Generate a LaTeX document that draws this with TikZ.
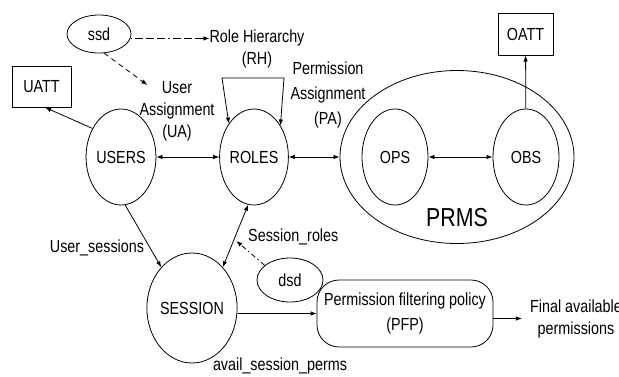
\documentclass[tikz,border=0pt]{standalone}
\usepackage{fontspec}
\setmainfont[FakeStretch=0.82]{Liberation Sans}
\usetikzlibrary{shapes.geometric,arrows.meta,calc}
\tikzset{
  ell/.style={ellipse, draw, line width=0.8pt, inner sep=0pt},
  attbox/.style={rectangle, draw, line width=1pt, inner sep=0pt},
  lbl/.style={align=center, inner sep=0pt},
  arr/.style={->, line width=0.8pt},
  darr/.style={<->, line width=0.8pt},
  sodarr/.style={->, line width=0.8pt,
    dash pattern=on 1.5pt off 3pt on 8pt off 3pt on 8pt off 3pt on 8pt off 3pt},
  sodash/.style={->, line width=0.8pt, dash pattern=on 5pt off 4pt},
  dsdarr/.style={->, line width=0.8pt, dash pattern=on 5pt off 3pt on 1.5pt off 3pt},
}
\begin{document}
\begin{tikzpicture}[x=1pt, y=-1pt, >={Latex[length=6pt,width=4.5pt]},
  font=\fontsize{17.5}{22}\selectfont]
\useasboundingbox (0,0) rectangle (619,376);

% entities
\node[ell, minimum width=64pt, minimum height=38pt] (ssd) at (99,34) {ssd};
\node[attbox, minimum width=59pt, minimum height=41pt] (UATT) at (41.5,86.5) {UATT};
\node[ell, minimum width=66pt, minimum height=96pt] (USERS) at (121,157) {USERS};
\node[ell, minimum width=64pt, minimum height=96pt] (ROLES) at (254,157) {ROLES};
\node[ell, minimum width=234pt, minimum height=173pt] (PRMS) at (457,157) {};
\node[font=\fontsize{26}{28}\selectfont, inner sep=0pt] (prmslbl) at (457,218) {PRMS};
\node[ell, minimum width=66pt, minimum height=96pt] (OPS) at (395,157) {OPS};
\node[ell, minimum width=66pt, minimum height=96pt] (OBS) at (526,157) {OBS};
\node[attbox, minimum width=55pt, minimum height=42pt] (OATT) at (525.5,34) {OATT};
\node[ell, minimum width=80pt, minimum height=110pt] (SESSION) at (192,308) {SESSION};
\node[ell, minimum width=66pt, minimum height=44pt] (dsd) at (290,280) {dsd};
\node[draw, rounded corners=22pt, minimum width=176pt, minimum height=67pt,
  align=center, line width=0.8pt, font=\fontsize{17.5}{25}\selectfont]
  (PFP) at (405,313.5) {Permission filtering policy\\(PFP)};

% relation labels
\node[lbl] (rh1) at (257,38) {Role Hierarchy};
\node[lbl] (rh2) at (257,60) {(RH)};
\node[lbl] (UA) at (177,111) {User\\Assignment\\(UA)};
\node[lbl, font=\fontsize{17.5}{25}\selectfont] (PA) at (328,95) {Permission\\Assignment\\(PA)};
\node[lbl] (usess) at (97,248) {User\_sessions};
\node[lbl, anchor=west] (sroles) at (248,237) {Session\_roles};
\node[lbl] (asp) at (280,366) {avail\_session\_perms};
\node[lbl, inner xsep=8pt] (fav) at (576,318.5) {Final available\\permissions};

% role hierarchy loop corners
\coordinate (rhL) at (222,78);
\coordinate (rhR) at (284,78);

% connectors
\draw[sodarr] (ssd.-8) -- (rh1.west |- ssd.-8);
\draw[sodash] (ssd.-75) -- ($(UA.north west)+(8,4)$);
\draw[arr] (USERS.135) -- (UATT.-80);
\draw[darr] (USERS) -- (ROLES);
\draw[darr] (ROLES) -- (PRMS);
\draw[darr] (OPS) -- (OBS);
\draw[arr] (OBS) -- (OATT);
\draw[darr] (ROLES.127) -- (rhL) -- (rhR) -- (ROLES.50);
\draw[arr] (USERS.-85) -- (SESSION.127);
\draw[darr] (SESSION.53) -- (ROLES.-97);
\draw[dsdarr] (dsd.150) -- ($(SESSION.53)!0.42!(ROLES.-97)+(3,0)$);
\draw[arr] (SESSION.east |- PFP.west) -- (PFP.west);
\draw[arr] (fav.west -| PFP.east) -- (fav.west);
\end{tikzpicture}
\end{document}
